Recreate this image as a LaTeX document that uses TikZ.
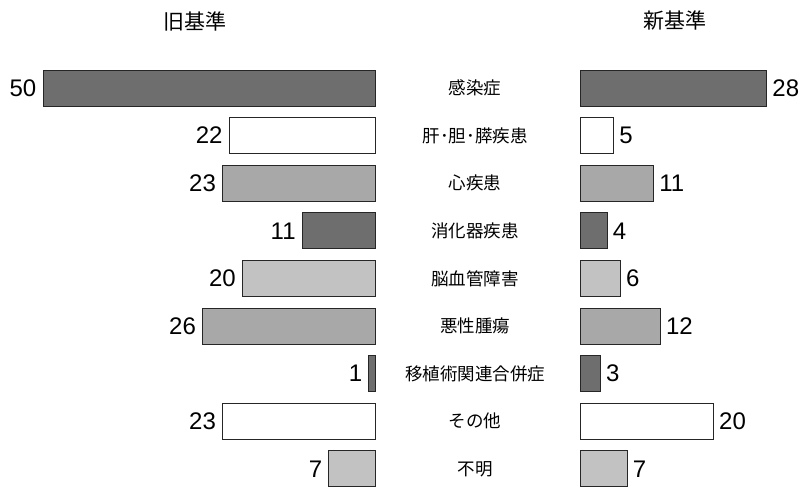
\documentclass[tikz,border=0pt]{standalone}
\usepackage{fontspec}
\setmainfont{Liberation Sans}
\newfontfamily\jpfont{Noto Sans CJK JP}
\usetikzlibrary{positioning}
\definecolor{barDark}{gray}{0.43}
\definecolor{barMid}{gray}{0.66}
\definecolor{barLight}{gray}{0.76}
\definecolor{barNone}{gray}{1}
\tikzset{
  bar/.style={draw=black!85,line width=1pt,minimum height=36pt,inner sep=0pt},
  num/.style={font=\fontsize{24}{24}\selectfont,inner sep=0pt},
  cat/.style={font=\jpfont\fontsize{17.5}{17.5}\selectfont,inner sep=0pt},
  head/.style={font=\jpfont\fontsize{21}{21}\selectfont,inner sep=0pt}
}
\begin{document}
\begin{tikzpicture}[x=1pt,y=-1pt]
\useasboundingbox (0,0) rectangle (804,491);
\node[head] (old) at (195,21) {旧基準};
\node[head] (new) at (675,21) {新基準};
\foreach \lab/\o/\n/\c [count=\i] in {感染症/50/28/barDark,肝･胆･膵疾患/22/5/barNone,心疾患/23/11/barMid,消化器疾患/11/4/barDark,脳血管障害/20/6/barLight,悪性腫瘍/26/12/barMid,移植術関連合併症/1/3/barDark,その他/23/20/barNone,不明/7/7/barLight}{
  \node[bar,fill=\c,anchor=east,minimum width=\o*6.65pt] (old\i) at (376,40.4+47.6*\i) {};
  \node[bar,fill=\c,anchor=west,minimum width=\n*6.65pt] (new\i) at (580,40.4+47.6*\i) {};
  \node[num,left=6pt of old\i] (oldv\i) {\o};
  \node[num,right=5pt of new\i] (newv\i) {\n};
  \node[cat] (lab\i) at (475,40.4+47.6*\i) {\lab};
}
\end{tikzpicture}
\end{document}
